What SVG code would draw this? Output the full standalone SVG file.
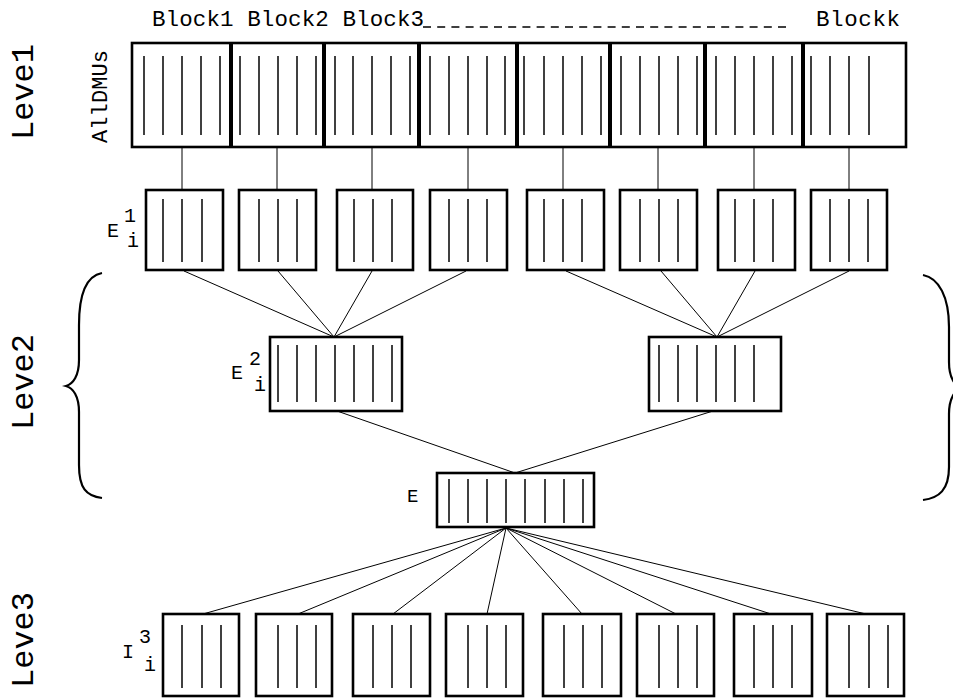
<svg xmlns="http://www.w3.org/2000/svg" width="953" height="698" viewBox="0 0 953 698">
<style>
.box{fill:#fff;stroke:#000;stroke-width:2.6}
.div{stroke:#000;stroke-width:4}
.in{stroke:#000;stroke-width:1.5}
.ing{stroke:#bbb;stroke-width:1}
.con{stroke:#000;stroke-width:1;fill:none}
.brace{stroke:#000;stroke-width:2.2;fill:none}
.t{font-family:"Liberation Mono","Courier New",monospace;fill:#000}
</style>
<rect width="953" height="698" fill="#fff"/>

<g id="labels">
<text class="t" font-size="32" transform="translate(33,140) rotate(-90)" textLength="96">Leve1</text>
<text class="t" font-size="32" transform="translate(33,430) rotate(-90)" textLength="96">Leve2</text>
<text class="t" font-size="32" transform="translate(33,688) rotate(-90)" textLength="96">Leve3</text>
<text class="t" font-size="22" transform="translate(107,143) rotate(-90)" textLength="93">AllDMUs</text>
<text class="t" font-size="22.5" x="152" y="26" textLength="272">Block1 Block2 Block3</text>
<text class="t" font-size="22.5" x="816" y="26" textLength="84">Blockk</text>
<line x1="423" y1="27" x2="790" y2="27" stroke="#000" stroke-width="1.6" stroke-dasharray="8 6.2"/>
</g>

<g id="connectors">
<line class="con" x1="182" y1="147" x2="182" y2="190"/>
<line class="con" x1="277" y1="147" x2="277" y2="190"/>
<line class="con" x1="372" y1="147" x2="372" y2="190"/>
<line class="con" x1="468" y1="147" x2="468" y2="190"/>
<line class="con" x1="563" y1="147" x2="563" y2="190"/>
<line class="con" x1="658" y1="147" x2="658" y2="190"/>
<line class="con" x1="754" y1="147" x2="754" y2="190"/>
<line class="con" x1="849" y1="147" x2="849" y2="190"/>
<line class="con" x1="184" y1="271" x2="334" y2="337"/>
<line class="con" x1="278" y1="271" x2="334" y2="337"/>
<line class="con" x1="372" y1="271" x2="334" y2="337"/>
<line class="con" x1="466" y1="271" x2="334" y2="337"/>
<line class="con" x1="566" y1="271" x2="717" y2="337"/>
<line class="con" x1="661" y1="271" x2="717" y2="337"/>
<line class="con" x1="755" y1="271" x2="717" y2="337"/>
<line class="con" x1="849" y1="271" x2="717" y2="337"/>
<line class="con" x1="337" y1="411" x2="515" y2="473"/>
<line class="con" x1="713" y1="411" x2="515" y2="473"/>
<line class="con" x1="506" y1="528" x2="203" y2="614"/>
<line class="con" x1="506" y1="528" x2="298" y2="614"/>
<line class="con" x1="506" y1="528" x2="393" y2="614"/>
<line class="con" x1="506" y1="528" x2="487" y2="614"/>
<line class="con" x1="506" y1="528" x2="582" y2="614"/>
<line class="con" x1="506" y1="528" x2="676" y2="614"/>
<line class="con" x1="506" y1="528" x2="771" y2="614"/>
<line class="con" x1="506" y1="528" x2="866" y2="614"/>
</g>

<g id="braces">
<path class="brace" d="M102,273 C86,276 79,295 79,325 L79,360 C79,376 73,384 66,386 C73,388 79,396 79,412 L79,465 C79,488 86,496 102,498"/>
<path class="brace" d="M923,275 C939,278 949,297 949,327 L949,362 C949,378 955,386 962,388 C955,390 949,398 949,414 L949,467 C949,490 939,498 923,500"/>
</g>

<g id="alldmus">
<rect class="box" x="132" y="43" width="774" height="104"/>
<line class="div" x1="231" y1="43" x2="231" y2="147"/>
<line class="div" x1="324" y1="43" x2="324" y2="147"/>
<line class="div" x1="419" y1="43" x2="419" y2="147"/>
<line class="div" x1="517" y1="43" x2="517" y2="147"/>
<line class="div" x1="610" y1="43" x2="610" y2="147"/>
<line class="div" x1="705" y1="43" x2="705" y2="147"/>
<line class="div" x1="803" y1="43" x2="803" y2="147"/>
</g>
<g id="block1" class="in"><line x1="144" y1="56" x2="144" y2="135"/><line x1="163" y1="56" x2="163" y2="135"/><line x1="182" y1="56" x2="182" y2="135"/><line x1="201" y1="56" x2="201" y2="135"/><line x1="220" y1="56" x2="220" y2="135"/></g>
<g id="block2" class="in"><line x1="240" y1="56" x2="240" y2="135"/><line x1="259" y1="56" x2="259" y2="135"/><line x1="278" y1="56" x2="278" y2="135"/><line x1="297" y1="56" x2="297" y2="135"/><line x1="316" y1="56" x2="316" y2="135"/></g>
<g id="block3" class="in"><line x1="335" y1="56" x2="335" y2="135"/><line x1="353" y1="56" x2="353" y2="135"/><line x1="372" y1="56" x2="372" y2="135"/><line x1="391" y1="56" x2="391" y2="135"/><line x1="410" y1="56" x2="410" y2="135"/></g>
<g id="block4" class="in"><line x1="430" y1="56" x2="430" y2="135"/><line x1="449" y1="56" x2="449" y2="135"/><line x1="468" y1="56" x2="468" y2="135"/><line x1="487" y1="56" x2="487" y2="135"/><line x1="505" y1="56" x2="505" y2="135"/></g>
<g id="block5" class="in"><line x1="524" y1="56" x2="524" y2="135"/><line x1="544" y1="56" x2="544" y2="135"/><line x1="563" y1="56" x2="563" y2="135"/><line x1="582" y1="56" x2="582" y2="135"/><line x1="601" y1="56" x2="601" y2="135"/></g>
<g id="block6" class="in"><line x1="621" y1="56" x2="621" y2="135"/><line x1="640" y1="56" x2="640" y2="135"/><line x1="659" y1="56" x2="659" y2="135"/><line x1="678" y1="56" x2="678" y2="135"/><line x1="697" y1="56" x2="697" y2="135"/></g>
<g id="block7" class="in"><line x1="716" y1="56" x2="716" y2="135"/><line x1="735" y1="56" x2="735" y2="135"/><line x1="754" y1="56" x2="754" y2="135"/><line x1="773" y1="56" x2="773" y2="135"/><line x1="792" y1="56" x2="792" y2="135"/></g>
<g id="blockk" class="in"><line x1="811" y1="56" x2="811" y2="135"/><line x1="830" y1="56" x2="830" y2="135"/><line x1="849" y1="56" x2="849" y2="135"/><line x1="869" y1="56" x2="869" y2="135"/></g>

<g id="e1_label">
<text class="t" font-size="20" x="107" y="237">E</text>
<text class="t" font-size="20" x="124" y="222">1</text>
<text class="t" font-size="20" x="127" y="247">i</text>
</g>
<g id="e1_1"><rect class="box" x="146" y="190" width="77" height="80"/><g class="in"><line x1="163" y1="199" x2="163" y2="262"/><line x1="182" y1="199" x2="182" y2="262"/><line x1="202" y1="199" x2="202" y2="262"/></g></g>
<g id="e1_2"><rect class="box" x="239" y="190" width="77" height="80"/><g class="in"><line x1="259" y1="199" x2="259" y2="262"/><line x1="278" y1="199" x2="278" y2="262"/><line x1="297" y1="199" x2="297" y2="262"/></g></g>
<g id="e1_3"><rect class="box" x="337" y="190" width="76" height="80"/><g class="in"><line x1="354" y1="199" x2="354" y2="262"/><line x1="373" y1="199" x2="373" y2="262"/><line x1="392" y1="199" x2="392" y2="262"/></g></g>
<g id="e1_4"><rect class="box" x="430" y="190" width="77" height="80"/><g class="in"><line x1="449" y1="199" x2="449" y2="262"/><line x1="468" y1="199" x2="468" y2="262"/><line x1="487" y1="199" x2="487" y2="262"/></g></g>
<g id="e1_5"><rect class="box" x="527" y="190" width="77" height="80"/><g class="in"><line x1="544" y1="199" x2="544" y2="262"/><line x1="563" y1="199" x2="563" y2="262"/><line x1="582" y1="199" x2="582" y2="262"/></g></g>
<g id="e1_6"><rect class="box" x="620" y="190" width="77" height="80"/><g class="in"><line x1="640" y1="199" x2="640" y2="262"/><line x1="659" y1="199" x2="659" y2="262"/><line x1="678" y1="199" x2="678" y2="262"/></g></g>
<g id="e1_7"><rect class="box" x="718" y="190" width="77" height="80"/><g class="in"><line x1="735" y1="199" x2="735" y2="262"/><line x1="754" y1="199" x2="754" y2="262"/><line x1="773" y1="199" x2="773" y2="262"/></g></g>
<g id="e1_8"><rect class="box" x="811" y="190" width="76" height="80"/><g class="in"><line x1="830" y1="199" x2="830" y2="262"/><line x1="849" y1="199" x2="849" y2="262"/><line x1="868" y1="199" x2="868" y2="262"/></g></g>

<g id="e2_label">
<text class="t" font-size="20" x="231" y="379">E</text>
<text class="t" font-size="20" x="249" y="365">2</text>
<text class="t" font-size="20" x="254" y="391">i</text>
</g>
<g id="e2_1"><rect class="box" x="270" y="337" width="132" height="74"/><g class="in"><line x1="278" y1="345" x2="278" y2="402"/><line x1="297" y1="345" x2="297" y2="402"/><line x1="316" y1="345" x2="316" y2="402"/><line x1="335" y1="345" x2="335" y2="402"/><line x1="354" y1="345" x2="354" y2="402"/><line x1="373" y1="345" x2="373" y2="402"/><line x1="392" y1="345" x2="392" y2="402"/></g></g>
<g id="e2_2"><rect class="box" x="649" y="337" width="132" height="74"/><g class="in"><line x1="659" y1="345" x2="659" y2="402"/><line x1="678" y1="345" x2="678" y2="402"/><line x1="697" y1="345" x2="697" y2="402"/><line x1="716" y1="345" x2="716" y2="402"/><line x1="735" y1="345" x2="735" y2="402"/><line x1="754" y1="345" x2="754" y2="402"/></g></g>

<g id="e_label"><text class="t" font-size="19" x="407" y="502">E</text></g>
<g id="e"><rect class="box" x="437" y="473" width="157" height="54"/><g class="in"><line x1="449" y1="479" x2="449" y2="523"/><line x1="468" y1="479" x2="468" y2="523"/><line x1="487" y1="479" x2="487" y2="523"/><line x1="506" y1="479" x2="506" y2="523"/><line x1="525" y1="479" x2="525" y2="523"/><line x1="545" y1="479" x2="545" y2="523"/><line x1="564" y1="479" x2="564" y2="523"/><line x1="583" y1="479" x2="583" y2="523"/></g></g>

<g id="i3_label">
<text class="t" font-size="20" x="122" y="658">I</text>
<text class="t" font-size="20" x="139" y="643">3</text>
<text class="t" font-size="20" x="144" y="671">i</text>
</g>
<g id="i3_1"><rect class="box" x="163" y="614" width="76" height="82"/><g class="in"><line x1="182" y1="625" x2="182" y2="688"/><line x1="202" y1="625" x2="202" y2="688"/><line x1="221" y1="625" x2="221" y2="688"/></g></g>
<g id="i3_2"><rect class="box" x="256" y="614" width="76" height="82"/><g class="in"><line x1="278" y1="625" x2="278" y2="688"/><line x1="297" y1="625" x2="297" y2="688"/><line x1="316" y1="625" x2="316" y2="688"/></g></g>
<g id="i3_3"><rect class="box" x="353" y="614" width="77" height="82"/><g class="in"><line x1="373" y1="625" x2="373" y2="688"/><line x1="392" y1="625" x2="392" y2="688"/><line x1="411" y1="625" x2="411" y2="688"/></g></g>
<g id="i3_4"><rect class="box" x="446" y="614" width="77" height="82"/><g class="in"><line x1="468" y1="625" x2="468" y2="688"/><line x1="487" y1="625" x2="487" y2="688"/><line x1="506" y1="625" x2="506" y2="688"/></g></g>
<g id="i3_5"><rect class="box" x="543" y="614" width="78" height="82"/><g class="in"><line x1="564" y1="625" x2="564" y2="688"/><line x1="583" y1="625" x2="583" y2="688"/><line x1="602" y1="625" x2="602" y2="688"/></g></g>
<g id="i3_6"><rect class="box" x="637" y="614" width="77" height="82"/><g class="in"><line x1="659" y1="625" x2="659" y2="688"/><line x1="678" y1="625" x2="678" y2="688"/><line x1="697" y1="625" x2="697" y2="688"/></g></g>
<g id="i3_7"><rect class="box" x="734" y="614" width="78" height="82"/><g class="in"><line x1="754" y1="625" x2="754" y2="688"/><line x1="773" y1="625" x2="773" y2="688"/><line x1="792" y1="625" x2="792" y2="688"/></g></g>
<g id="i3_8"><rect class="box" x="827" y="614" width="77" height="82"/><g class="in"><line x1="849" y1="625" x2="849" y2="688"/><line x1="869" y1="625" x2="869" y2="688"/><line x1="888" y1="625" x2="888" y2="688"/></g></g>
</svg>
